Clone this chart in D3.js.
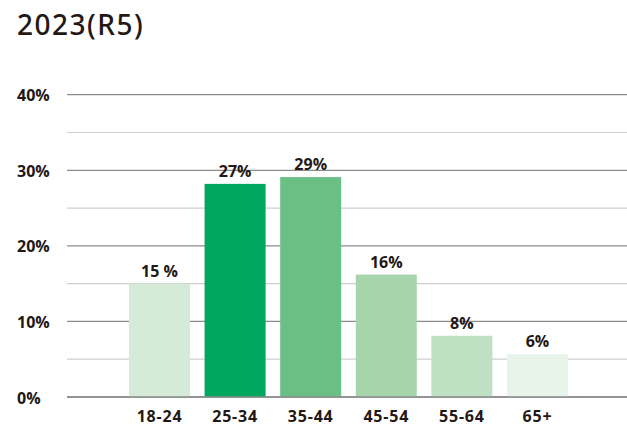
<!DOCTYPE html>
<html>
<head>
<meta charset="utf-8">
<script src="https://cdn.jsdelivr.net/npm/d3@7"></script>
<style>
  body { margin: 0; background: #fff; }
  svg text { fill: #231815; }
</style>
</head>
<body>
<div id="chart"></div>
<script>
// age groups, bar heights (%) and the printed labels
const categories = ["18-24", "25-34", "35-44", "45-54", "55-64", "65+"]
const values = [15.0, 28.2, 29.1, 16.2, 8.1, 5.7]
const valueLabels = ["15 %", "27%", "29%", "16%", "8%", "6%"]
const colors = ["#d5ead7", "#00a85f", "#6abf84", "#a6d5ab", "#c0e0c4", "#e8f4ea"]
const majorTicks = [0, 10, 20, 30, 40]
const minorTicks = [5, 15, 25, 35]

let width = 627, height = 428

let svg = d3.select("#chart").append("svg")
    .attr("width", width)
    .attr("height", height)

let xScale = d3.scaleBand()
    .domain(categories)
    .range([129, 568])
    .paddingInner(0.193)
    .paddingOuter(0)

let yScale = d3.scaleLinear()
    .domain([0, 40])
    .range([397, 94.7])

svg.append("text")
    .attr("x", 17)
    .attr("y", 35)
    .style("font-family", "'Noto Sans', sans-serif")
    .style("font-size", "28px")
    .style("font-weight", 500)
    .style("letter-spacing", "1.5px")
    .text("2023(R5)")

// grid
svg.selectAll(".minor")
    .data(minorTicks)
    .enter().append("line")
    .attr("class", "minor")
    .attr("x1", 67).attr("x2", width)
    .attr("y1", d => yScale(d)).attr("y2", d => yScale(d))
    .style("stroke", "#cfcfcf")
    .style("stroke-width", 1.2)

svg.selectAll(".major")
    .data(majorTicks)
    .enter().append("line")
    .attr("class", "major")
    .attr("x1", 67).attr("x2", width)
    .attr("y1", d => yScale(d)).attr("y2", d => yScale(d))
    .style("stroke", "#8c8c8c")
    .style("stroke-width", 1.3)

svg.selectAll(".ylab")
    .data(majorTicks)
    .enter().append("text")
    .attr("class", "ylab")
    .attr("x", 17)
    .attr("y", d => yScale(d) + 6.5)
    .style("font-family", "'Open Sans', sans-serif")
    .style("font-size", "16px")
    .style("font-weight", "bold")
    .text(d => d + "%")

// bars
svg.selectAll(".bar")
    .data(values)
    .enter().append("rect")
    .attr("class", "bar")
    .attr("x", (d, i) => xScale(categories[i]))
    .attr("width", xScale.bandwidth())
    .attr("y", d => yScale(d))
    .attr("height", d => yScale(0) - yScale(d))
    .style("fill", (d, i) => colors[i])

// redraw the baseline over the bars
svg.append("line")
    .attr("x1", 67).attr("x2", width)
    .attr("y1", yScale(0)).attr("y2", yScale(0))
    .style("stroke", "#8c8c8c")
    .style("stroke-width", 1.3)

svg.selectAll(".vlab")
    .data(values)
    .enter().append("text")
    .attr("class", "vlab")
    .attr("x", (d, i) => xScale(categories[i]) + xScale.bandwidth() / 2)
    .attr("y", d => yScale(d) - 7)
    .attr("text-anchor", "middle")
    .style("font-family", "'Open Sans', sans-serif")
    .style("font-size", "16px")
    .style("font-weight", "bold")
    .text((d, i) => valueLabels[i])

svg.selectAll(".xlab")
    .data(categories)
    .enter().append("text")
    .attr("class", "xlab")
    .attr("x", d => xScale(d) + xScale.bandwidth() / 2)
    .attr("y", 422)
    .attr("text-anchor", "middle")
    .style("font-family", "'Open Sans', sans-serif")
    .style("font-size", "16px")
    .style("font-weight", "bold")
    .style("letter-spacing", "0.8px")
    .text(d => d)
</script>
</body>
</html>
